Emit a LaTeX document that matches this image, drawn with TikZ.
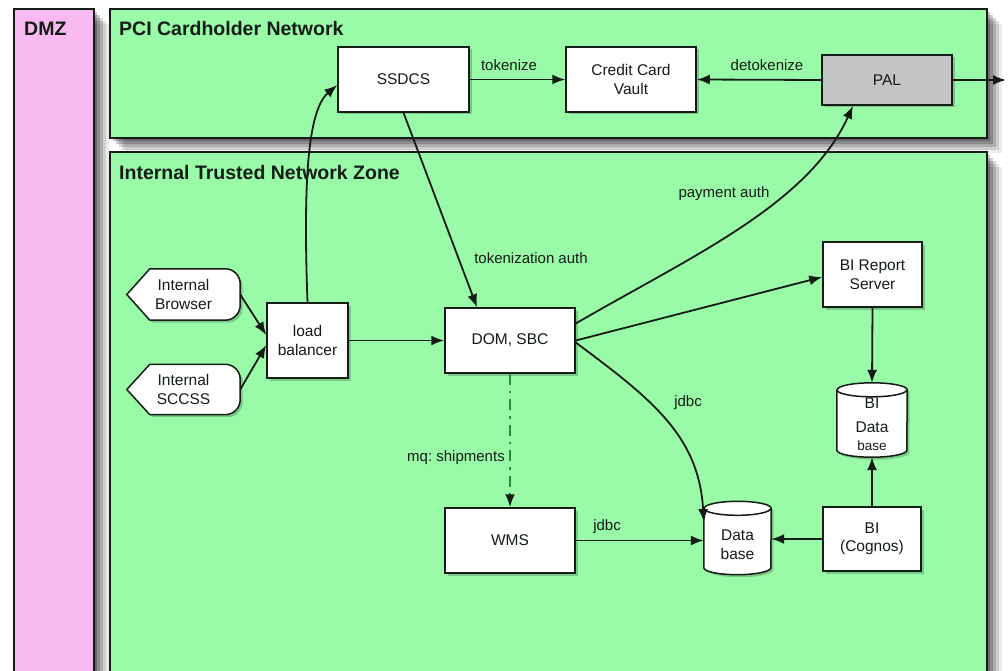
\documentclass[tikz,border=0pt]{standalone}
\usepackage{fontspec}
\setmainfont{Liberation Sans}
\usetikzlibrary{arrows.meta,shadows}
\frenchspacing

\pgfdeclarelayer{zones}
\pgfdeclarelayer{shapes}
\pgfsetlayers{zones,shapes,main}

\definecolor{zonegreen}{RGB}{153,251,168}
\definecolor{dmzpink}{RGB}{248,186,240}
\definecolor{palgray}{RGB}{196,196,196}
\definecolor{mqgreen}{RGB}{40,140,62}
\definecolor{ink}{RGB}{20,28,22}

\newcommand{\boxsize}{\fontsize{15.5}{18.5}\selectfont}
\newcommand{\lblsize}{\fontsize{15}{17}\selectfont}

\tikzset{
  zonebox/.style={fill=#1, draw=ink, line width=1.5pt,
    drop shadow={shadow xshift=3pt, shadow yshift=-3pt, opacity=.22, fill=black},
    drop shadow={shadow xshift=6pt, shadow yshift=-6pt, opacity=.2, fill=black},
    drop shadow={shadow xshift=9pt, shadow yshift=-9pt, opacity=.16, fill=black},
    drop shadow={shadow xshift=12pt, shadow yshift=-12pt, opacity=.12, fill=black},
    drop shadow={shadow xshift=15pt, shadow yshift=-15pt, opacity=.08, fill=black}},
  head/.style={font=\bfseries\fontsize{19.5}{22}\selectfont, text=ink, anchor=west, inner sep=0pt},
  box/.style={draw=ink, line width=1.5pt, fill=white, font=\boxsize, text=ink,
    align=center, inner sep=2pt,
    drop shadow={shadow xshift=2.5pt, shadow yshift=-2.5pt, opacity=.2, fill=black}},
  bare/.style={font=\boxsize, text=ink, align=center, inner sep=0pt},
  outline/.style={draw=ink, line width=1.5pt, fill=white,
    drop shadow={shadow xshift=2.5pt, shadow yshift=-2.5pt, opacity=.2, fill=black}},
  rim/.style={draw=ink, line width=1.5pt},
  flow/.style={draw=ink, line width=1.8pt, -{Latex[length=13pt,width=10pt]}},
  mq/.style={draw=mqgreen, line width=2pt,
    dash pattern=on 11pt off 6pt on 2.5pt off 6pt,
    -{Latex[length=13pt,width=10pt,color=ink]}},
  lbl/.style={font=\lblsize, text=ink, inner sep=0pt},
}

\begin{document}
\begin{tikzpicture}[x=1pt,y=1pt]
\useasboundingbox (0,0) rectangle (1008,-671);

% zones
\begin{pgfonlayer}{zones}
  \fill[white] (0,0) rectangle (1008,-671);
  \path[zonebox=dmzpink] (14,-9) rectangle (94,-700);
  \path[zonebox=zonegreen] (110,-9) rectangle (987,-138);
  \path[zonebox=zonegreen] (110,-152) rectangle (987,-700);
\end{pgfonlayer}
\node[head] (dmzhead) at (24,-29) {DMZ};
\node[head] (pcihead) at (119,-29) {PCI Cardholder Network};
\node[head] (ithead) at (119,-173) {Internal Trusted Network Zone};

% cardholder network
\node[box, minimum width=131pt, minimum height=65pt] (ssdcs) at (403.5,-79.5) {SSDCS};
\node[box, minimum width=130pt, minimum height=65pt] (vault) at (631,-79.5) {Credit Card\\Vault};
\node[box, fill=palgray, minimum width=130pt, minimum height=50pt] (pal) at (887,-80) {PAL};
\coordinate (palout) at (1006,-80);

% internal zone
\node[bare, minimum width=113pt, minimum height=51pt] (ib) at (183.5,-294.5) {Internal\\Browser};
\node[bare, minimum width=113pt, minimum height=50pt] (isc) at (183.5,-389.5) {Internal\\SCCSS};
\node[box, minimum width=81pt, minimum height=75pt] (lb) at (307.5,-340.5) {load\\balancer};
\node[box, minimum width=130pt, minimum height=65pt] (dom) at (510,-340.5) {DOM, SBC};
\node[box, minimum width=130pt, minimum height=65pt] (wms) at (510,-540.5) {WMS};
\node[box, minimum width=99pt, minimum height=65pt] (birs) at (872.5,-274.5) {BI Report\\Server};
\node[box, minimum width=98pt, minimum height=64pt] (bic) at (872,-539) {BI\\(Cognos)};
\node[bare, minimum width=70pt, minimum height=74pt] (bidb) at (872,-424)
  {BI\\[5.5pt]Data\\{\fontsize{13.5}{15}\selectfont base}};
\node[bare, minimum width=67pt, minimum height=73pt] (db) at (737.5,-544.5) {Data\\base};

% outlines of the sources and the databases
\begin{pgfonlayer}{shapes}
  \foreach \src in {ib,isc}{
    \path[outline] (\src.west) -- ([xshift=23pt]\src.north west)
      -- ([xshift=-15pt]\src.north east) arc[start angle=90, end angle=0, radius=15pt]
      -- ([yshift=15pt]\src.south east) arc[start angle=0, end angle=-90, radius=15pt]
      -- ([xshift=23pt]\src.south west) -- cycle;
  }
  \path[outline] ([yshift=-0.5pt]db.north west) -- ([yshift=13.5pt]db.south west)
    arc[start angle=180, end angle=360, x radius=33.5pt, y radius=7pt]
    -- ([yshift=-0.5pt]db.north east)
    arc[start angle=0, end angle=180, x radius=33.5pt, y radius=7pt] -- cycle;
  \draw[rim] ([yshift=-0.5pt]db.north west)
    arc[start angle=180, end angle=360, x radius=33.5pt, y radius=7pt];
  \path[outline] ([yshift=-3pt]bidb.north west) -- ([yshift=11pt]bidb.south west)
    arc[start angle=180, end angle=360, x radius=35pt, y radius=7pt]
    -- ([yshift=-3pt]bidb.north east)
    arc[start angle=0, end angle=180, x radius=35pt, y radius=7pt] -- cycle;
  \draw[rim] ([yshift=-3pt]bidb.north west)
    arc[start angle=180, end angle=360, x radius=35pt, y radius=7pt];
\end{pgfonlayer}

% connectors
\draw[flow] (ssdcs.east) -- (vault.west);
\draw[flow] (pal.west) -- (vault.east);
\draw[flow] (pal.east) -- (palout);
\draw[flow] (ib.east) -- ([yshift=5.5pt]lb.west);
\draw[flow] (isc.east) -- ([yshift=-4.5pt]lb.west);
\draw[flow] (lb.north) .. controls (303,-180) and (308,-110) .. ([yshift=-5.5pt]ssdcs.west);
\draw[flow] (lb.east) -- (dom.west);
\draw[flow] (ssdcs.south) -- ([xshift=-33pt]dom.north);
\draw[flow] ([yshift=17pt]dom.east) .. controls (690,-257) and (808,-205) .. ([xshift=-34pt]pal.south);
\draw[flow] (dom.east) -- ([yshift=-2.5pt]birs.west);
\draw[flow] ([yshift=-2pt]dom.east) .. controls (650,-398) and (699,-435) .. ([yshift=22.5pt]db.west);
\draw[mq] (dom.south) -- (wms.north);
\draw[flow] (wms.east) -- (wms.east -| db.west);
\draw[flow] (bic.west) -- (bic.west -| db.east);
\draw[flow] (birs.south) -- ([yshift=4pt]bidb.north);
\draw[flow] (bic.north) -- ([yshift=4pt]bidb.south);

% connector labels
\node[lbl] (ltok) at (509,-65) {tokenize};
\node[lbl] (ldetok) at (767,-65) {detokenize};
\node[lbl] (ltokauth) at (531,-258) {tokenization auth};
\node[lbl] (lpay) at (724,-194) {payment auth};
\node[lbl] (ljdbca) at (688,-403) {jdbc};
\node[lbl] (ljdbcb) at (607,-527) {jdbc};
\node[lbl] (lmq) at (456,-458) {mq: shipments};
\end{tikzpicture}
\end{document}
